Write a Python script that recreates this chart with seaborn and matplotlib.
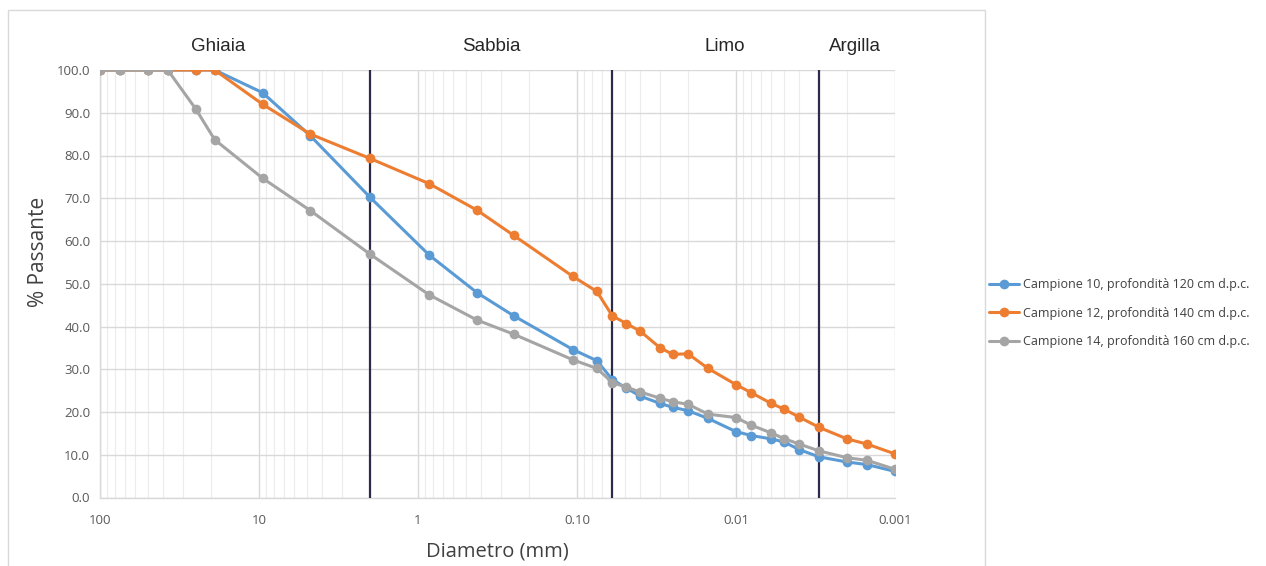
import numpy as np
import pandas as pd
import matplotlib
matplotlib.use("Agg")
import matplotlib.pyplot as plt
from matplotlib.patches import Rectangle
from matplotlib.ticker import FixedLocator, NullFormatter
import seaborn as sns

# ---- data ----
diametro = [100, 75, 50, 37.5, 25, 19, 9.5, 4.75, 2, 0.85, 0.425, 0.25, 0.106, 0.075,
            0.06, 0.049, 0.04, 0.03, 0.025, 0.02, 0.015, 0.01, 0.008, 0.006, 0.005,
            0.004, 0.003, 0.002, 0.0015, 0.001]
campione_10 = [100, 100, 100, 100, 100, 100, 94.7, 84.6, 70.2, 56.7, 47.9, 42.5, 34.6, 32.0,
               27.6, 25.6, 23.7, 22.0, 21.1, 20.3, 18.5, 15.4, 14.5, 13.7, 13.0,
               11.2, 9.5, 8.3, 7.7, 6.1]
campione_12 = [100, 100, 100, 100, 100, 100, 92.0, 85.0, 79.3, 73.4, 67.2, 61.3, 51.7, 48.2,
               42.5, 40.7, 38.9, 35.0, 33.5, 33.6, 30.2, 26.4, 24.5, 22.0, 20.7,
               18.8, 16.4, 13.7, 12.5, 10.2]
campione_14 = [100, 100, 100, 100, 90.9, 83.7, 74.7, 67.1, 56.9, 47.4, 41.5, 38.2, 32.2, 30.2,
               26.9, 25.8, 24.7, 23.2, 22.4, 21.8, 19.5, 18.7, 16.9, 15.1, 13.8,
               12.5, 10.9, 9.3, 8.7, 6.6]
series_names = ["Campione 10, profondità 120 cm d.p.c.",
                "Campione 12, profondità 140 cm d.p.c.",
                "Campione 14, profondità 160 cm d.p.c."]
zone_labels = ["Ghiaia", "Sabbia", "Limo", "Argilla"]
zone_label_pos = [18.1, 0.348, 0.0117, 0.00179]
zone_limits = [2, 0.06, 0.003]
x_ticks = [100, 10, 1, 0.1, 0.01, 0.001]
x_tick_labels = ["100", "10", "1", "0.10", "0.01", "0.001"]
y_ticks = list(range(0, 101, 10))

colors = ["#5b9bd5", "#ed7d31", "#a5a5a5"]

df = pd.concat([
    pd.DataFrame({"Diametro": diametro, "Passante": vals, "Serie": name})
    for name, vals in zip(series_names, [campione_10, campione_12, campione_14])
], ignore_index=True)

sns.set_style("white")
plt.rcParams["font.family"] = ["Open Sans", "DejaVu Sans"]

fig = plt.figure(figsize=(12.66, 5.66), dpi=100)
ax = fig.add_axes([100 / 1266, 1 - 497.5 / 566, 795 / 1266, 427.5 / 566])

# outer frame
fig.patches.append(Rectangle((8 / 1266, -0.05), (985 - 8) / 1266, 1.05 - 10 / 566,
                             transform=fig.transFigure, fill=False,
                             edgecolor="#d9d9d9", linewidth=1.0))

ax.set_xscale("log")
sns.lineplot(data=df, x="Diametro", y="Passante", hue="Serie", palette=colors,
             marker="o", markersize=7, markeredgewidth=0, linewidth=2.2,
             sort=False, ax=ax, zorder=5)

ax.set_xlim(100, 0.001)
ax.set_ylim(0, 100)

ax.xaxis.set_major_locator(FixedLocator(x_ticks))
ax.set_xticklabels(x_tick_labels)
minor = [m * 10.0 ** e for e in range(-3, 2) for m in range(2, 10)]
ax.xaxis.set_minor_locator(FixedLocator(minor))
ax.xaxis.set_minor_formatter(NullFormatter())
ax.set_yticks(y_ticks)
ax.set_yticklabels([f"{v:.1f}" for v in y_ticks])

ax.grid(which="major", axis="both", color="#d9d9d9", linewidth=1.0, zorder=0)
ax.grid(which="minor", axis="x", color="#ececec", linewidth=0.8, zorder=0)
ax.set_axisbelow(True)

for s in ["top", "right"]:
    ax.spines[s].set_visible(False)
for s in ["left", "bottom"]:
    ax.spines[s].set_color("#d9d9d9")
    ax.spines[s].set_linewidth(1.0)

ax.tick_params(axis="both", which="both", length=0, labelsize=9.5, labelcolor="#595959")
ax.tick_params(axis="x", pad=12)
ax.tick_params(axis="y", pad=7)

for xv in zone_limits:
    ax.axvline(xv, color="#2e2a48", linewidth=1.6, zorder=3)

for lab, xp in zip(zone_labels, zone_label_pos):
    ax.text(xp, 1.055, lab, transform=ax.get_xaxis_transform(), ha="center", va="center",
            fontsize=13.5, color="#262626", family=["Liberation Sans", "DejaVu Sans"])

ax.set_xlabel("Diametro (mm)", fontsize=14.5, color="#404040")
ax.xaxis.set_label_coords(0.5, -0.103)
ax.set_ylabel("% Passante", fontsize=15, color="#404040")
ax.yaxis.set_label_coords(-0.064, 0.574)

handles, labels = ax.get_legend_handles_labels()
leg = ax.legend(handles, labels, loc="center left", bbox_to_anchor=(984 / 1266, 1 - 313 / 566),
                bbox_transform=fig.transFigure, frameon=False, fontsize=9,
                handlelength=2.4, handletextpad=0.3, labelspacing=1.25, borderaxespad=0)
for t in leg.get_texts():
    t.set_color("#404040")

fig.savefig("out.png", dpi=100, facecolor="white")
